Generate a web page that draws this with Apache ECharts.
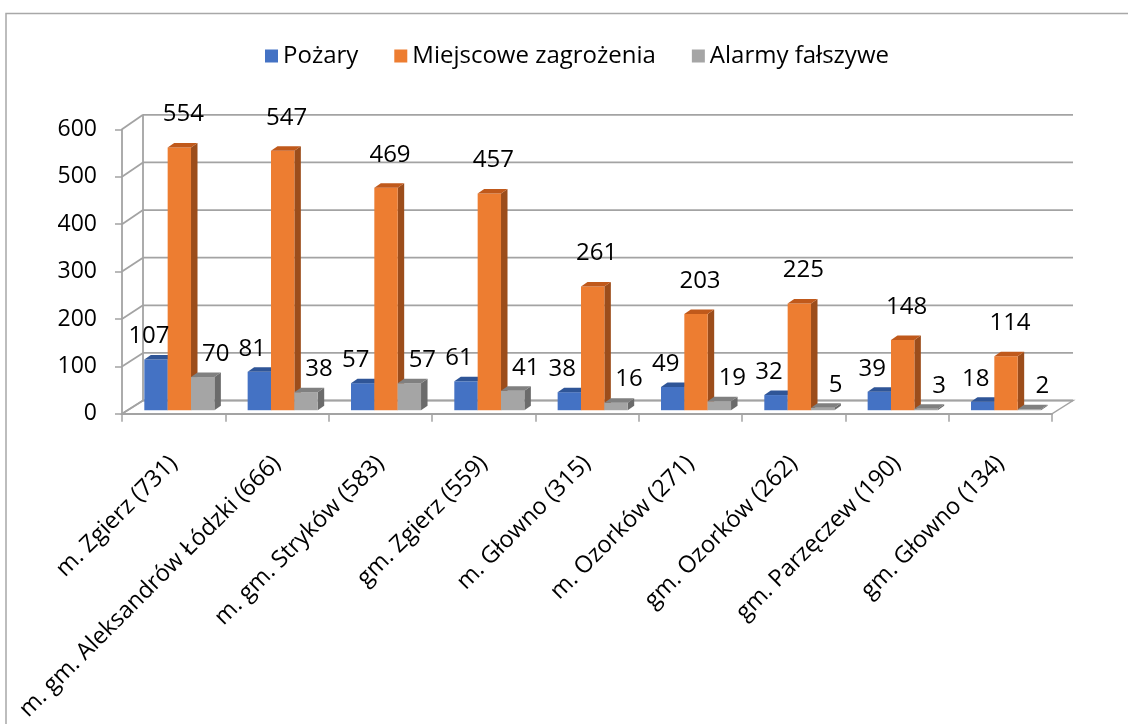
<!DOCTYPE html>
<html>
<head>
<meta charset="utf-8">
<script src="https://cdn.jsdelivr.net/npm/echarts@6/dist/echarts.min.js"></script>
<style>
  html, body { margin: 0; padding: 0; background: #fff; }
  #chart { width: 1128px; height: 724px; }
</style>
</head>
<body>
<div id="chart"></div>
<script>
// data
const categories = [
  "m. Zgierz (731)",
  "m. gm. Aleksandrów Łódzki (666)",
  "m. gm. Stryków (583)",
  "gm. Zgierz (559)",
  "m. Głowno (315)",
  "m. Ozorków (271)",
  "gm. Ozorków (262)",
  "gm. Parzęczew (190)",
  "gm. Głowno (134)"
];
const pozary = [107, 81, 57, 61, 38, 49, 32, 39, 18];
const miejscowe = [554, 547, 469, 457, 261, 203, 225, 148, 114];
const alarmy = [70, 38, 57, 41, 16, 19, 5, 3, 2];
const seriesNames = ["Pożary", "Miejscowe zagrożenia", "Alarmy fałszywe"];
const yTicks = [0, 100, 200, 300, 400, 500, 600];

const FONT = "Open Sans";
const GRID = "#a3a3a3";
// 3d look: depth of the walls, where bars sit in it, depth of one bar
const DEPTH_X = 21, DEPTH_Y = -13.3;
const BAR_POS = 0.27;
const BAR_DX = 6.5, BAR_DY = -4.5;

const faces = [
  { front: "#4472c4", top: "#2f5597", side: "#2b4f8c", lx: -7, ly: -23 },
  { front: "#ed7d31", top: "#c0591b", side: "#9c4d1b", lx: 4, ly: -33 },
  { front: "#a5a5a5", top: "#808080", side: "#6b6b6b", lx: 13, ly: -23 }
];

function backY(yf, y0) {
  return yf + DEPTH_Y + (yf - y0) * 0.004;
}

// floor, side wall and back wall gridlines
function wallRenderer(params, api) {
  let cs = params.coordSys,
    left = cs.x,
    right = cs.x + cs.width,
    y0 = api.coord([0, 0])[1],
    children = [];
  children.push({
    type: "polygon",
    shape: { points: [[left, y0], [right, y0], [right + DEPTH_X, y0 + DEPTH_Y], [left + DEPTH_X, y0 + DEPTH_Y]] },
    style: { fill: "#fff", stroke: GRID, lineWidth: 1.5 }
  });
  let yTop;
  yTicks.forEach(function (t) {
    let yf = api.coord([0, t])[1],
      yb = backY(yf, y0);
    yTop = yb;
    children.push({
      type: "line",
      shape: { x1: left, y1: yf, x2: left + DEPTH_X, y2: yb },
      style: { stroke: GRID, lineWidth: 1.8 }
    });
    children.push({
      type: "line",
      shape: { x1: left + DEPTH_X, y1: yb, x2: right + DEPTH_X, y2: yb },
      style: { stroke: GRID, lineWidth: 1.8 }
    });
  });
  children.push({
    type: "line",
    shape: { x1: left + DEPTH_X, y1: y0 + DEPTH_Y, x2: left + DEPTH_X, y2: yTop },
    style: { stroke: GRID, lineWidth: 1.8 }
  });
  return { type: "group", children: children };
}

function barRenderer(k) {
  return function (params, api) {
    let i = api.value(0),
      v = api.value(1),
      base = api.coord([i, 0]),
      top = api.coord([i, v]),
      band = api.size([1, 0])[0],
      w = band * 0.226,
      sx = DEPTH_X * BAR_POS,
      sy = DEPTH_Y * BAR_POS,
      x0 = base[0] - 1.5 * w + k * w + sx,
      x1 = x0 + w,
      yb = base[1] + sy,
      yt = top[1] + sy,
      f = faces[k];
    return {
      type: "group",
      children: [
        {
          type: "polygon",
          shape: { points: [[x1, yt], [x1 + BAR_DX, yt + BAR_DY], [x1 + BAR_DX, yb + BAR_DY], [x1, yb]] },
          style: { fill: f.side }
        },
        {
          type: "rect",
          shape: { x: x0, y: yt, width: w, height: yb - yt },
          style: { fill: f.front }
        },
        {
          type: "polygon",
          shape: { points: [[x0, yt], [x1, yt], [x1 + BAR_DX, yt + BAR_DY], [x0 + BAR_DX, yt + BAR_DY]] },
          style: { fill: f.top }
        },
        {
          type: "text",
          z2: 10,
          style: {
            text: String(v),
            x: x0 + w / 2 + f.lx,
            y: yt + f.ly,
            fill: "#000",
            fontSize: 24,
            fontFamily: FONT,
            align: "center",
            verticalAlign: "middle"
          }
        }
      ]
    };
  };
}

function toPairs(arr) {
  return arr.map(function (v, i) { return [i, v]; });
}

let myChart = echarts.init(document.getElementById("chart")),
  option;
let values = [pozary, miejscowe, alarmy];

option = {
  animation: false,
  textStyle: { fontFamily: FONT },
  graphic: [
    {
      type: "rect",
      silent: true,
      z: -10,
      shape: { x: 6, y: 13.5, width: 1300, height: 900 },
      style: { fill: "none", stroke: "#a8a8a8", lineWidth: 1.5 }
    }
  ],
  legend: {
    top: 39,
    left: 260,
    icon: "rect",
    itemWidth: 13,
    itemHeight: 13,
    itemGap: 36,
    data: seriesNames,
    textStyle: { fontSize: 24, fontFamily: FONT, color: "#000" }
  },
  grid: { left: 122, right: 76, top: 129.3, bottom: 309.7, containLabel: false },
  xAxis: {
    type: "category",
    data: categories,
    axisLine: { show: true, lineStyle: { color: GRID, width: 1.8 } },
    axisTick: { show: true, length: 8, lineStyle: { color: GRID, width: 1.5 } },
    axisLabel: { interval: 0, rotate: 45, fontSize: 23.5, fontFamily: FONT, color: "#000", margin: 46 },
    splitLine: { show: false }
  },
  yAxis: {
    type: "value",
    min: 0,
    max: 600,
    interval: 100,
    axisLine: { show: true, lineStyle: { color: GRID, width: 1.8 } },
    axisTick: { show: true, length: 7, lineStyle: { color: GRID, width: 1.5 } },
    axisLabel: { fontSize: 23, fontFamily: FONT, color: "#000", margin: 25 },
    splitLine: { show: false }
  },
  series: [
    {
      type: "custom",
      name: "walls",
      silent: true,
      z: 1,
      renderItem: wallRenderer,
      data: [[0, 0]]
    }
  ].concat(
    seriesNames.map(function (name, k) {
      return {
        type: "custom",
        name: name,
        z: 2,
        itemStyle: { color: faces[k].front },
        renderItem: barRenderer(k),
        encode: { x: 0, y: 1 },
        data: toPairs(values[k])
      };
    })
  )
};

if (option && typeof option === "object") myChart.setOption(option);
window.addEventListener("resize", function () {
  myChart.resize();
});
</script>
</body>
</html>
